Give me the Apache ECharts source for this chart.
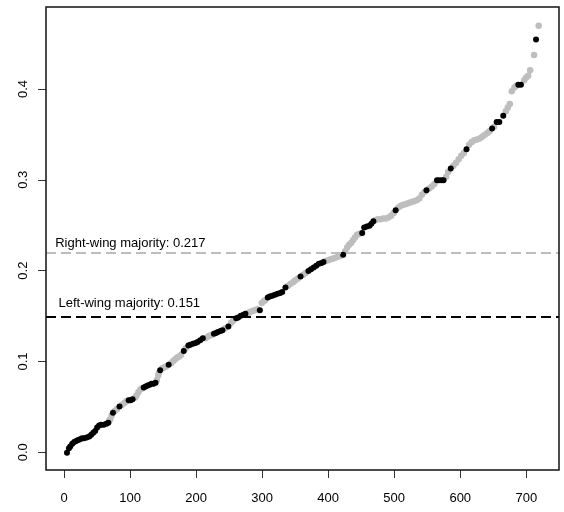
<!DOCTYPE html>
<html>
<head>
<meta charset="utf-8">
<script src="https://cdn.jsdelivr.net/npm/echarts@6/dist/echarts.min.js"></script>
<style>
  html, body { margin: 0; padding: 0; background: #fff; }
  #main { width: 564px; height: 512px; }
</style>
</head>
<body>
<div id="main"></div>
<script>
// rank of each point and its value
var grayRank = [68, 70, 72, 77, 80, 88, 92, 95, 108, 110, 113, 116, 119, 141, 143, 144, 149, 152, 155,
  163, 166, 169, 172, 175, 178, 185, 215, 219, 222, 225, 245, 254, 257, 280, 283, 287, 290, 294,
  301, 304, 306, 341, 345, 349, 352, 356, 364, 368, 398, 402, 406, 410, 414, 418, 421, 428, 431,
  434, 437, 440, 443, 446, 450, 474, 478, 482, 486, 490, 494, 498, 502, 509, 513, 517, 521, 525,
  529, 533, 537, 541, 545, 549, 556, 560, 564, 582, 585, 593, 597, 601, 605, 609, 617, 621, 625,
  629, 633, 637, 641, 645, 648, 655, 673, 676, 679, 682, 686, 689, 701, 704, 707, 710, 716, 723];
var grayShare = [0.035, 0.037, 0.041, 0.046, 0.048, 0.053, 0.055, 0.057, 0.061, 0.063, 0.067, 0.070, 0.071, 0.080, 0.085, 0.088, 0.093, 0.094, 0.095,
  0.099, 0.101, 0.103, 0.105, 0.106, 0.108, 0.115, 0.126, 0.128, 0.129, 0.130, 0.137, 0.143, 0.145, 0.154, 0.155, 0.156, 0.157, 0.158,
  0.165, 0.167, 0.168, 0.184, 0.186, 0.188, 0.190, 0.192, 0.196, 0.198, 0.211, 0.212, 0.213, 0.214, 0.215, 0.216, 0.217, 0.222, 0.226,
  0.229, 0.231, 0.234, 0.237, 0.240, 0.241, 0.256, 0.257, 0.257, 0.258, 0.258, 0.259, 0.261, 0.264, 0.270, 0.272, 0.273, 0.274, 0.275,
  0.276, 0.277, 0.278, 0.280, 0.284, 0.287, 0.291, 0.293, 0.296, 0.304, 0.309, 0.316, 0.319, 0.323, 0.327, 0.330, 0.339, 0.342, 0.344,
  0.345, 0.346, 0.348, 0.350, 0.352, 0.354, 0.359, 0.376, 0.380, 0.384, 0.398, 0.402, 0.404, 0.410, 0.413, 0.415, 0.421, 0.438, 0.470];

var blackRank = [4, 7, 9, 12, 15, 18, 21, 24, 27, 30, 34, 38, 41, 44, 47, 50, 53, 56, 60, 64, 67,
  74, 84, 98, 101, 104, 121, 124, 127, 130, 133, 136, 139, 146, 159, 182, 189, 192, 196, 200, 203,
  207, 211, 228, 231, 234, 238, 241, 250, 262, 265, 269, 273, 276, 298, 310, 313, 317, 321, 325,
  329, 332, 337, 360, 372, 376, 380, 384, 388, 392, 395, 425, 454, 457, 461, 465, 468, 471, 505,
  552, 568, 571, 575, 578, 589, 613, 652, 659, 663, 669, 692, 696, 719];
var blackShare = [0.000, 0.005, 0.007, 0.010, 0.012, 0.013, 0.014, 0.015, 0.016, 0.016, 0.017, 0.018, 0.020, 0.022, 0.024, 0.028, 0.030, 0.031, 0.031, 0.032, 0.033,
  0.044, 0.051, 0.058, 0.058, 0.059, 0.072, 0.073, 0.074, 0.075, 0.076, 0.076, 0.077, 0.091, 0.097, 0.112, 0.118, 0.119, 0.120, 0.121, 0.122,
  0.124, 0.126, 0.131, 0.132, 0.133, 0.134, 0.135, 0.139, 0.148, 0.149, 0.151, 0.152, 0.153, 0.157, 0.171, 0.172, 0.173, 0.174, 0.175,
  0.176, 0.177, 0.182, 0.194, 0.200, 0.202, 0.204, 0.206, 0.208, 0.209, 0.210, 0.218, 0.242, 0.248, 0.249, 0.250, 0.252, 0.255, 0.267,
  0.289, 0.300, 0.300, 0.300, 0.300, 0.313, 0.334, 0.357, 0.364, 0.364, 0.371, 0.405, 0.405, 0.455];

var rightMajority = 0.217;
var leftMajority = 0.151;

var xMin = -28, xMax = 754;          // R's 4% padding round 1..725
var yMin = -0.0189, yMax = 0.4907;   // and round 0..0.472

var GRAY = "#bebebe";
var FONT = "Liberation Sans, Arial, sans-serif";

function zip(xs, ys) {
  return xs.map(function (x, i) { return [x, ys[i]]; });
}

var myChart = echarts.init(document.getElementById("main"));

var option = {
  animation: false,
  backgroundColor: "#fff",
  grid: [
    // plot region
    { left: 46, right: 5, top: 7, bottom: 42 },
    // x ticks: 0 .. 700
    { left: 64, right: 37.7, top: 7, bottom: 42 },
    // y ticks: 0 .. 0.4
    { left: 46, right: 5, top: 89, bottom: 59.7 }
  ],
  xAxis: [
    { gridIndex: 0, type: "value", min: xMin, max: xMax, show: false },
    {
      gridIndex: 1, type: "value", min: 0, max: 700, interval: 100,
      axisLine: { show: false },
      axisTick: { show: true, length: 8, lineStyle: { color: "#333" } },
      axisLabel: { color: "#000", fontSize: 13, fontFamily: FONT, margin: 22 },
      splitLine: { show: false }
    },
    { gridIndex: 2, type: "value", min: 0, max: 1, show: false }
  ],
  yAxis: [
    { gridIndex: 0, type: "value", min: yMin, max: yMax, show: false },
    { gridIndex: 1, type: "value", min: 0, max: 1, show: false },
    {
      gridIndex: 2, type: "value", min: 0, max: 0.4, interval: 0.1,
      axisLine: { show: false },
      axisTick: { show: true, length: 8, lineStyle: { color: "#333" } },
      axisLabel: {
        color: "#000", fontSize: 13, fontFamily: FONT, rotate: 90, margin: 16,
        formatter: function (v) { return v.toFixed(1); }
      },
      splitLine: { show: false }
    }
  ],
  series: [
    {
      name: "gray",
      type: "scatter",
      xAxisIndex: 0, yAxisIndex: 0,
      symbol: "circle",
      symbolSize: 6.5,
      itemStyle: { color: GRAY, opacity: 1 },
      data: zip(grayRank, grayShare),
      silent: true,
      markLine: {
        silent: true,
        symbol: "none",
        label: { show: false },
        data: [
          { yAxis: rightMajority, lineStyle: { color: GRAY, width: 2, type: [10, 5], opacity: 1 } },
          { yAxis: leftMajority, lineStyle: { color: "#000", width: 2, type: [10, 5], opacity: 1 } }
        ]
      }
    },
    {
      name: "black",
      type: "scatter",
      xAxisIndex: 0, yAxisIndex: 0,
      symbol: "circle",
      symbolSize: 6,
      itemStyle: { color: "#000", opacity: 1 },
      data: zip(blackRank, blackShare),
      silent: true
    }
  ]
};

myChart.setOption(option);

// box round the plot region and the two majority labels
var px = function (x, y) { return myChart.convertToPixel({ xAxisIndex: 0, yAxisIndex: 0 }, [x, y]); };
var tl = px(xMin, yMax), br = px(xMax, yMin);
var pR = px(-14, rightMajority);
var pL = px(-9, leftMajority);

myChart.setOption({
  graphic: [
    {
      type: "polygon", silent: true, z: 10,
      shape: { points: [[tl[0], tl[1]], [br[0], tl[1]], [br[0], br[1]], [tl[0], br[1]]] },
      style: { fill: "none", stroke: "#111", lineWidth: 1.5 }
    },
    {
      type: "text", x: pR[0], y: pR[1] - 12.5,
      style: { text: "Right-wing majority: " + rightMajority, fill: "#000", font: "13px " + FONT, textVerticalAlign: "middle" }
    },
    {
      type: "text", x: pL[0], y: pL[1] - 12.5,
      style: { text: "Left-wing majority: " + leftMajority, fill: "#000", font: "13px " + FONT, textVerticalAlign: "middle" }
    }
  ]
});
</script>
</body>
</html>
